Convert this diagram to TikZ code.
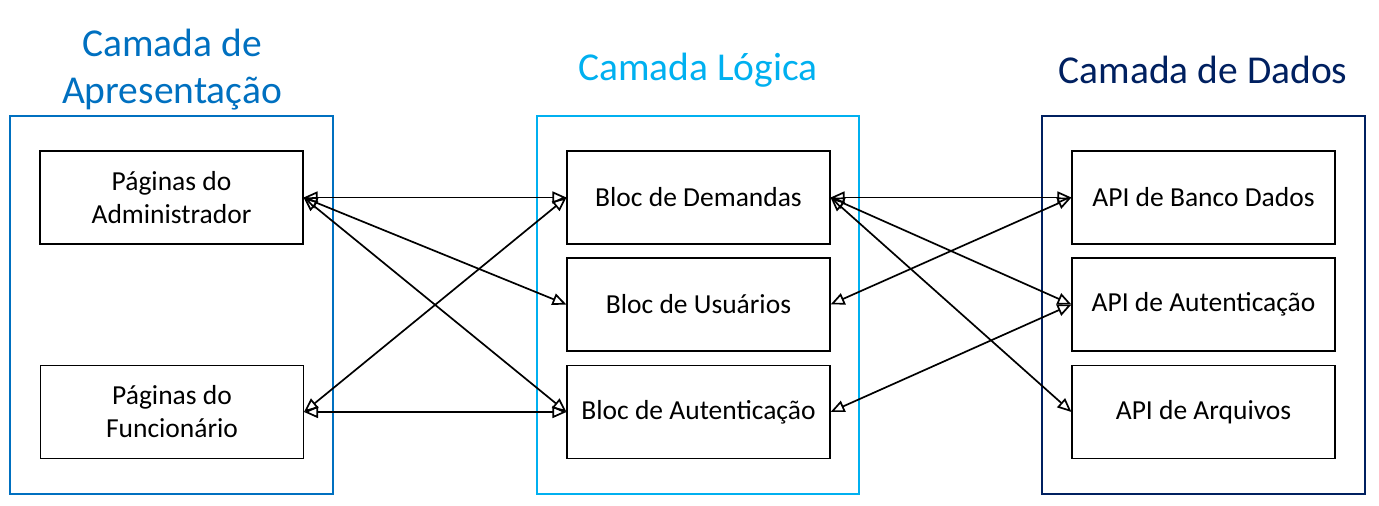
\documentclass[tikz,border=0pt]{standalone}
\usepackage{fontspec}
\setmainfont{Carlito}
\usetikzlibrary{arrows.meta}
\definecolor{cApres}{RGB}{0,112,192}
\definecolor{cLog}{RGB}{0,176,240}
\definecolor{cDados}{RGB}{0,32,96}
\begin{document}
\begin{tikzpicture}[x=1pt,y=-1pt,
  layer/.style={draw=#1,line width=2.8pt},
  inner/.style={draw=black,line width=1.1pt,fill=white,minimum width=263pt,minimum height=93pt,align=center,font=\fontsize{27.5}{33}\selectfont,inner sep=0pt},
  ttl/.style={text=#1,font=\fontsize{39.5}{47}\selectfont,align=center},
  link/.style={draw=black,line width=1.7pt,{Triangle[open,length=14pt,width=12pt]}-{Triangle[open,length=14pt,width=12pt]}}]
\useasboundingbox (0,0) rectangle (1379,506);
% containers
\draw[layer=cApres] (10,116) rectangle (333,494);
\draw[layer=cLog] (537,116) rectangle (859,494);
\draw[layer=cDados] (1042,116) rectangle (1365,494);
% titles
\node[ttl=cApres] (t1) at (172,70) {Camada de\\Apresentação};
\node[ttl=cLog] (t2) at (698,70) {Camada Lógica};
\node[ttl=cDados] (t3) at (1203,70) {Camada de Dados};
% boxes
\node[inner] (adm) at (171.5,197.5) {Páginas do\\Administrador};
\node[inner] (fun) at (172,412) {Páginas do\\Funcionário};
\node[inner] (dem) at (698.5,197.5) {Bloc de Demandas};
\node[inner] (usu) at (698.5,304.5) {Bloc de Usuários};
\node[inner] (aut) at (698.5,412) {Bloc de Autenticação};
\node[inner] (ban) at (1203.5,197.5) {API de Banco Dados};
\node[inner] (aau) at (1203.5,304.5) {API de Autenticação};
\node[inner] (arq) at (1203.5,412) {API de Arquivos};
% links
\draw[link] (adm.east) -- (dem.west);
\draw[link] (adm.east) -- (usu.west);
\draw[link] (adm.east) -- (aut.west);
\draw[link] (fun.east) -- (dem.west);
\draw[link] (fun.east) -- (aut.west);
\draw[link] (dem.east) -- (ban.west);
\draw[link] (dem.east) -- (aau.west);
\draw[link] (dem.east) -- (arq.west);
\draw[link] (usu.east) -- (ban.west);
\draw[link] (aut.east) -- (aau.west);
\end{tikzpicture}
\end{document}
